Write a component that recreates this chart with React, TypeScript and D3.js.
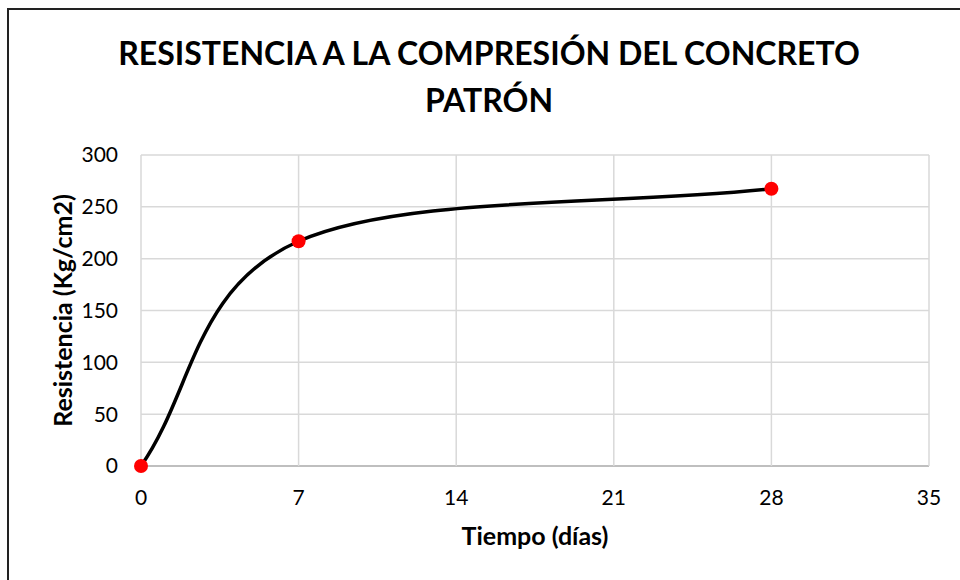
import React from "react";
import { scaleLinear, path as d3path } from "d3";

const days = [0, 7, 28];
const resistance = [0, 216.8, 267.5];
const xTicks = [0, 7, 14, 21, 28, 35];
const yTicks = [0, 50, 100, 150, 200, 250, 300];
const titleLines = ["RESISTENCIA A LA COMPRESIÓN DEL CONCRETO", "PATRÓN"];
const xLabel = "Tiempo (días)";
const yLabel = "Resistencia (Kg/cm2)";

const width = 960;
const height = 580;
const plot = { left: 141, right: 929, top: 155, bottom: 466 };
const font = "Lato, 'Open Sans', sans-serif";

// Excel-like smoothed line: interior tangents (p[i+1]-p[i-1])/6, end tangents (p1-p0)/3
function smoothPath(pts: [number, number][]) {
  const p = d3path();
  const n = pts.length;
  const tan = pts.map((pt, i) => {
    if (i === 0) return [(pts[1][0] - pt[0]) / 3, (pts[1][1] - pt[1]) / 3];
    if (i === n - 1) return [(pt[0] - pts[i - 1][0]) / 3, (pt[1] - pts[i - 1][1]) / 3];
    return [(pts[i + 1][0] - pts[i - 1][0]) / 6, (pts[i + 1][1] - pts[i - 1][1]) / 6];
  });
  p.moveTo(pts[0][0], pts[0][1]);
  for (let i = 1; i < n; i++) {
    const a = pts[i - 1];
    const b = pts[i];
    p.bezierCurveTo(
      a[0] + tan[i - 1][0],
      a[1] + tan[i - 1][1],
      b[0] - tan[i][0],
      b[1] - tan[i][1],
      b[0],
      b[1]
    );
  }
  return p.toString();
}

export default function App() {
  const x = scaleLinear().domain([0, 35]).range([plot.left, plot.right]);
  const y = scaleLinear().domain([0, 300]).range([plot.bottom, plot.top]);

  const pts: [number, number][] = days.map((d, i) => [x(d), y(resistance[i])]);
  const curve = smoothPath(pts);

  const cx = (plot.left + plot.right) / 2;
  const cy = (plot.top + plot.bottom) / 2;

  return (
    <svg
      width={width}
      height={height}
      style={{ position: "absolute", left: 0, top: 0, background: "#fff" }}
      fontFamily={font}
    >
      <rect x={8} y={9} width={1000} height={620} fill="#fff" stroke="#222" strokeWidth={2} />

      {titleLines.map((t, i) => (
        <text
          key={t}
          x={489}
          y={65 + i * 47}
          textAnchor="middle"
          fontSize={32}
          fontWeight="bold"
          fill="#000"
        >
          {t}
        </text>
      ))}

      {/* gridlines */}
      {yTicks.map((t) => (
        <line
          key={"gy" + t}
          x1={plot.left}
          x2={plot.right}
          y1={y(t)}
          y2={y(t)}
          stroke={t === 0 ? "#bfbfbf" : "#d9d9d9"}
          strokeWidth={t === 0 ? 2 : 1.5}
        />
      ))}
      {xTicks.map((t) => (
        <line
          key={"gx" + t}
          x1={x(t)}
          x2={x(t)}
          y1={plot.top}
          y2={plot.bottom}
          stroke="#d9d9d9"
          strokeWidth={1.5}
        />
      ))}

      {/* tick labels */}
      {yTicks.map((t) => (
        <text
          key={"ty" + t}
          x={118}
          y={y(t)}
          dy="0.35em"
          textAnchor="end"
          fontSize={21}
          fill="#000"
        >
          {t}
        </text>
      ))}
      {xTicks.map((t) => (
        <text
          key={"tx" + t}
          x={x(t)}
          y={498}
          dy="0.35em"
          textAnchor="middle"
          fontSize={21}
          fill="#000"
        >
          {t}
        </text>
      ))}

      <text x={cx} y={545} textAnchor="middle" fontSize={25} fontWeight="bold" fill="#000">
        {xLabel}
      </text>
      <text
        transform={`translate(72,${cy}) rotate(-90)`}
        textAnchor="middle"
        fontSize={25}
        fontWeight="bold"
        fill="#000"
      >
        {yLabel}
      </text>

      <path d={curve} fill="none" stroke="#000" strokeWidth={3.5} />
      {pts.map((p, i) => (
        <circle key={days[i]} cx={p[0]} cy={p[1]} r={7} fill="#ff0000" />
      ))}
    </svg>
  );
}
